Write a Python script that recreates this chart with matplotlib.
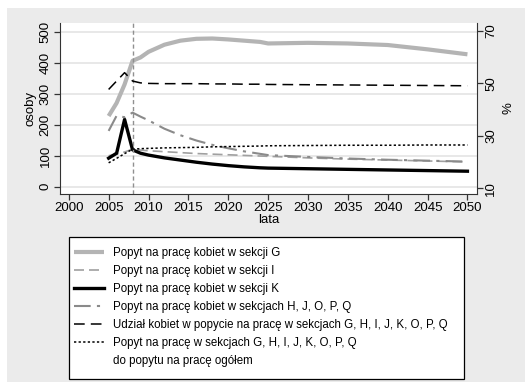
import matplotlib.pyplot as plt
from matplotlib.lines import Line2D
from matplotlib.patches import Rectangle

plt.rcParams['font.family'] = ['Liberation Sans', 'DejaVu Sans']

# Data
years = [2005, 2006, 2007, 2008, 2009, 2010, 2012, 2014, 2016, 2018, 2020,
         2022, 2024, 2025, 2030, 2035, 2040, 2045, 2050]
sekcja_g = [228, 270, 330, 406, 417, 435, 458, 471, 477, 478, 475,
            471, 467, 462, 464, 462, 457, 443, 427]
sekcja_i = [100, 105, 112, 121, 118, 116, 113, 110, 107, 105, 103,
            101, 99, 98, 93, 89, 86, 83, 80]
sekcja_k = [92, 108, 217, 119, 108, 102, 93, 86, 79, 73, 68,
            64, 61, 60, 58, 56, 54, 52, 50]
sekcje_hjopq = [180, 229, 224, 239, 226, 214, 187, 166, 149, 135, 124,
                114, 106, 102, 96, 91, 87, 84, 81]
udzial_kobiet = [47.7, 50.9, 54.1, 50.9, 50.2, 50.0, 49.9, 49.9, 49.9, 49.8, 49.8,
                 49.7, 49.7, 49.6, 49.5, 49.4, 49.3, 49.2, 49.1]
popyt_ogolem = [19.7, 21.4, 23.2, 24.9, 25.1, 25.2, 25.4, 25.5, 25.6, 25.8, 25.9,
                26.0, 26.1, 26.2, 26.3, 26.4, 26.4, 26.5, 26.5]

labels = ['Popyt na pracę kobiet w sekcji G',
          'Popyt na pracę kobiet w sekcji I',
          'Popyt na pracę kobiet w sekcji K',
          'Popyt na pracę kobiet w sekcjach H, J, O, P, Q',
          'Udział kobiet w popycie na pracę w sekcjach G, H, I, J, K, O, P, Q',
          'Popyt na pracę w sekcjach G, H, I, J, K, O, P, Q',
          'do popytu na pracę ogółem']

W, H = 525, 382
fig = plt.figure(figsize=(W / 100, H / 100), dpi=100)
fig.patch.set_facecolor('white')
fig.add_artist(Rectangle((7 / W, 0), 1, 1 - 8 / H, transform=fig.transFigure,
                         facecolor='#ebebeb', edgecolor='none', zorder=-10))

ax = fig.add_axes([60 / W, 1 - 194 / H, (477 - 60) / W, (194 - 23) / H])
ax.set_facecolor('white')
ax2 = ax.twinx()

# left axis: osoby
l1, = ax.plot(years, sekcja_g, color='#b4b4b4', lw=3.0, solid_capstyle='butt')
l2, = ax.plot(years, sekcja_i, color='#a0a0a0', lw=1.2, dashes=(6, 3))
l3, = ax.plot(years, sekcja_k, color='black', lw=2.4)
l4, = ax.plot(years, sekcje_hjopq, color='#8a8a8a', lw=1.5, dashes=(8, 3, 1.5, 3))
ax.axvline(2008, color='#909090', lw=1, dashes=(3, 2))

# right axis: %
l5, = ax2.plot(years, udzial_kobiet, color='black', lw=1.1, dashes=(7, 4))
l6, = ax2.plot(years, popyt_ogolem, color='black', lw=1.1, dashes=(1.5, 1.5))

ax.set_xlim(1998.9, 2051.2)
ax.set_ylim(-23.5, 528)
ax2.set_ylim(7.8, 73.05)
ax.set_xticks(range(2000, 2051, 5))
ax.set_yticks(range(0, 501, 100))
ax2.set_yticks([10, 30, 50, 70])
ax.grid(axis='y', color='#e6e6e6', lw=1.3)
ax.set_axisbelow(True)

for a in (ax, ax2):
    a.spines['top'].set_visible(False)
    a.tick_params(labelsize=9.5, length=4, width=0.9, color='#333333', pad=2)
ax2.spines['left'].set_visible(False)
ax2.spines['bottom'].set_visible(False)
ax.spines['right'].set_visible(False)
for s in ('left', 'bottom'):
    ax.spines[s].set_color('#333333')
ax2.spines['right'].set_color('#333333')
for t in ax.get_yticklabels():
    t.set_rotation(90)
    t.set_va('center')
for t in ax2.get_yticklabels():
    t.set_rotation(90)
    t.set_va('center')

ax.set_xlabel('lata', fontsize=9.5, labelpad=0)
ax.set_ylabel('osoby', fontsize=9.5, labelpad=2)
ax2.set_ylabel('%', fontsize=9.5, labelpad=4)

# legend box drawn separately so the padding matches
fig.add_artist(Rectangle((69 / W, 1 - 379 / H), (464 - 69) / W, (379 - 237) / H,
                         transform=fig.transFigure, facecolor='white',
                         edgecolor='black', lw=0.9, zorder=1))
blank = Line2D([], [], color='none')
leg = fig.legend([l1, l2, l3, l4, l5, l6, blank], labels,
                 loc='upper left', bbox_to_anchor=(69 / W, 1 - 242 / H),
                 fontsize=8.3, frameon=False,
                 handlelength=2.6, handletextpad=0.8, labelspacing=0.52,
                 borderpad=0.45, borderaxespad=0)
leg.set_zorder(2)

fig.savefig('out.png', dpi=100)
